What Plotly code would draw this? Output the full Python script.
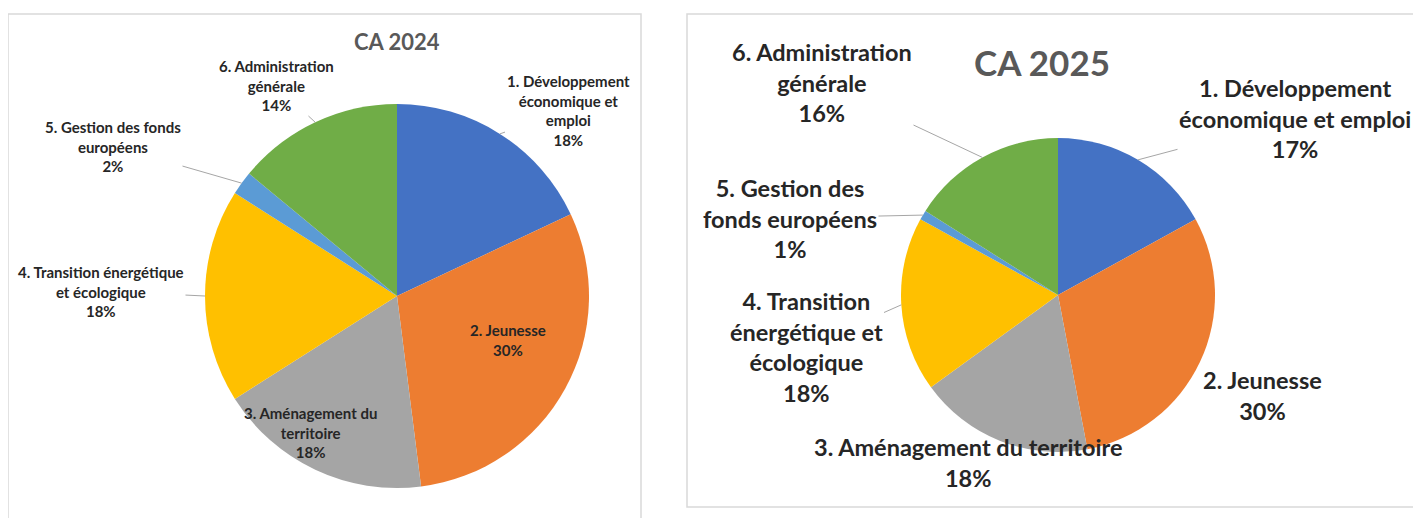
import math
import plotly.graph_objects as go

W, H = 1421, 526
OFF = 8                      # the page body adds an 8px margin around the figure
FW, FH = W - 2 * OFF, H - 2 * OFF

categories = [
    "1. Développement économique et emploi",
    "2. Jeunesse",
    "3. Aménagement du territoire",
    "4. Transition énergétique et écologique",
    "5. Gestion des fonds européens",
    "6. Administration générale",
]
ca_2024 = [18, 30, 18, 18, 2, 14]
ca_2025 = [17, 30, 18, 18, 1, 16]
colors = ["#4472C4", "#ED7D31", "#A5A5A5", "#FFC000", "#5B9BD5", "#70AD47"]

# how each chart breaks its labels
labels_2024 = ["1. Développement<br>économique et<br>emploi", "2. Jeunesse",
               "3. Aménagement du<br>territoire", "4. Transition énergétique<br>et écologique",
               "5. Gestion des fonds<br>européens", "6. Administration<br>générale"]
labels_2025 = ["1. Développement<br>économique et emploi", "2. Jeunesse",
               "3. Aménagement du territoire", "4. Transition<br>énergétique et<br>écologique",
               "5. Gestion des<br>fonds européens", "6. Administration<br>générale"]

# layout of the two panels (screen pixels): pie centre, radius, label centres, leader line on/off
charts = [
    dict(title="CA 2024", values=ca_2024, labels=labels_2024, cx=397, cy=296, r=192,
         title_xy=(397, 42), title_size=22, font_size=15,
         label_xy=[(568, 110), (508, 340), (310, 432), (101, 291), (113, 146), (276, 86)],
         leader=[True, False, False, True, True, True]),
    dict(title="CA 2025", values=ca_2025, labels=labels_2025, cx=1058, cy=295, r=157,
         title_xy=(1042, 62), title_size=35, font_size=23.5,
         label_xy=[(1295, 118), (1262, 395), (968, 462), (806, 347), (790, 218), (822, 82)],
         leader=[True, False, False, True, True, True]),
]


def px(x):
    return (x - OFF) / FW


def py(y):
    return 1 - (y - OFF) / FH


fig = go.Figure()
annotations = []

for c in charts:
    cx, cy, r = c["cx"], c["cy"], c["r"]
    fig.add_trace(go.Pie(
        labels=categories, values=c["values"], sort=False, direction="clockwise",
        rotation=0, textinfo="none", hoverinfo="label+percent", showlegend=False,
        marker=dict(colors=colors, line=dict(width=0)),
        domain=dict(x=[px(cx - r), px(cx + r)], y=[py(cy + r), py(cy - r)]),
    ))

    annotations.append(dict(
        text="<b>" + c["title"] + "</b>", x=px(c["title_xy"][0]), y=py(c["title_xy"][1]),
        xref="paper", yref="paper", xanchor="center", yanchor="middle", showarrow=False,
        font=dict(family="Lato", size=c["title_size"], color="#595959"),
    ))

    total = sum(c["values"])
    cum = 0
    for i, v in enumerate(c["values"]):
        mid = (cum + v / 2) / total * 2 * math.pi
        cum += v
        tx = cx + r * math.sin(mid)
        ty = cy - r * math.cos(mid)
        lx, ly = c["label_xy"][i]
        txt = "<b>" + c["labels"][i] + "<br>" + str(v) + "%</b>"
        font = dict(family="Lato", size=c["font_size"], color="#262626")
        if c["leader"][i]:
            annotations.append(dict(
                text=txt, x=px(tx), y=py(ty), xref="paper", yref="paper",
                ax=lx - tx, ay=ly - ty, axref="pixel", ayref="pixel",
                xanchor="center", yanchor="middle",
                showarrow=True, arrowhead=0, arrowwidth=1, arrowcolor="#A6A6A6",
                font=font, align="center",
            ))
        else:
            annotations.append(dict(
                text=txt, x=px(lx), y=py(ly), xref="paper", yref="paper",
                xanchor="center", yanchor="middle",
                showarrow=False, font=font, align="center",
            ))

# panel frames
shapes = [
    dict(type="rect", xref="paper", yref="paper", x0=px(8), x1=px(641), y0=-0.05, y1=py(14),
         line=dict(color="#D9D9D9", width=1.5), fillcolor="rgba(0,0,0,0)", layer="below"),
    dict(type="rect", xref="paper", yref="paper", x0=px(687), x1=1.05, y0=py(507), y1=py(14),
         line=dict(color="#D9D9D9", width=1.5), fillcolor="rgba(0,0,0,0)", layer="below"),
]

fig.update_layout(
    width=FW, height=FH, margin=dict(l=0, r=0, t=0, b=0),
    paper_bgcolor="white", plot_bgcolor="white",
    annotations=annotations, shapes=shapes,
)

fig.write_html("out.html")
